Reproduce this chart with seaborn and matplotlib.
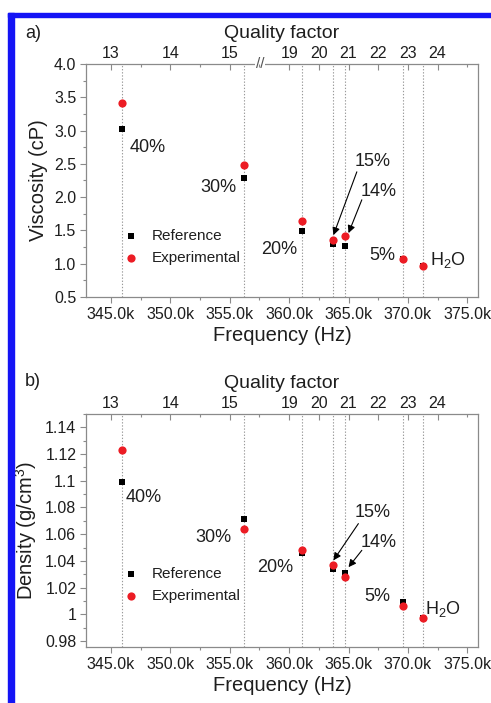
import matplotlib
matplotlib.use("Agg")
import matplotlib.pyplot as plt
import matplotlib.transforms as mtransforms
from matplotlib.patches import Rectangle
from matplotlib.ticker import FuncFormatter, MultipleLocator, FixedLocator
import seaborn as sns
import pandas as pd

# ---------------- data ----------------
samples = ["40%", "30%", "20%", "15%", "14%", "5%", "H2O"]
frequency_hz = [345950, 356230, 361070, 363680, 364710, 369570, 371310]
viscosity_ref = [3.02, 2.29, 1.49, 1.30, 1.27, 1.07, 0.96]
viscosity_exp = [3.42, 2.48, 1.64, 1.35, 1.41, 1.07, 0.96]
density_ref = [1.099, 1.071, 1.046, 1.034, 1.031, 1.009, 0.997]
density_exp = [1.123, 1.064, 1.048, 1.037, 1.028, 1.006, 0.997]

quality_tick_pos = [345000, 350000, 355000, 360000, 362500, 365000, 367500, 370000, 372500]
quality_tick_labels = ["13", "14", "15", "19", "20", "21", "22", "23", "24"]

df = pd.DataFrame({"sample": samples, "freq": frequency_hz,
                   "visc_ref": viscosity_ref, "visc_exp": viscosity_exp,
                   "dens_ref": density_ref, "dens_exp": density_exp})

# ---------------- style ----------------
sns.set_style("ticks")
plt.rcParams["font.family"] = ["Liberation Sans", "DejaVu Sans"]
plt.rcParams["mathtext.fontset"] = "custom"
plt.rcParams["mathtext.rm"] = "Liberation Sans"
plt.rcParams["mathtext.it"] = "Liberation Sans"

SPINE = "#8a8a8a"
TXT = "#1e1e1e"
RED = "#ec1c24"

fig = plt.figure(figsize=(4.91, 7.03), dpi=100)

# blue frame decoration
fig.patches.append(Rectangle((8 / 491, 0), 6 / 491, 1 - 13 / 703, transform=fig.transFigure,
                             color="#1414f5", zorder=0))
fig.patches.append(Rectangle((8 / 491, 1 - 17 / 703), 1, 4 / 703, transform=fig.transFigure,
                             color="#1414f5", zorder=0))

ax_a = fig.add_axes([86 / 491, 1 - 297 / 703, 392 / 491, 233 / 703])
ax_b = fig.add_axes([86 / 491, 1 - 647 / 703, 392 / 491, 233 / 703])

xlim = (342900, 375900)


def style_axes(ax, ylab, ylim, ymaj, ymin, yfmt, panel, legend_y, break_mark):
    for f in df["freq"]:
        ax.axvline(f, color="#9a9a9a", ls=(0, (1.2, 1.6)), lw=0.8, zorder=1)
    ax.set_xlim(*xlim)
    ax.set_ylim(*ylim)
    for s in ax.spines.values():
        s.set_color(SPINE)
        s.set_linewidth(0.9)
    ax.xaxis.set_major_locator(MultipleLocator(5000))
    ax.xaxis.set_minor_locator(MultipleLocator(2500))
    ax.xaxis.set_major_formatter(FuncFormatter(lambda v, p: f"{v/1000:.1f}k"))
    ax.yaxis.set_major_locator(MultipleLocator(ymaj))
    ax.yaxis.set_minor_locator(MultipleLocator(ymin))
    ax.yaxis.set_major_formatter(FuncFormatter(yfmt))
    ax.tick_params(axis="both", which="major", direction="out", length=4.5, width=0.8,
                   color=SPINE, labelsize=11.5, labelcolor=TXT, pad=2.5)
    ax.tick_params(axis="both", which="minor", direction="out", length=2.5, width=0.8, color=SPINE)
    ax.set_xlabel("Frequency (Hz)", fontsize=14.5, color=TXT, labelpad=3)
    ax.set_ylabel(ylab, fontsize=14.5, color=TXT, labelpad=4)

    top = ax.twiny()
    top.set_xlim(ax.get_xlim())
    top.xaxis.set_major_locator(FixedLocator(quality_tick_pos))
    top.xaxis.set_minor_locator(MultipleLocator(2500))
    top.set_xticklabels(quality_tick_labels)
    top.tick_params(axis="x", which="major", direction="in", length=4, width=0.8,
                    color=SPINE, labelsize=11.5, labelcolor=TXT, pad=2)
    top.tick_params(axis="x", which="minor", direction="in", length=2.5, width=0.8, color=SPINE)
    for s in top.spines.values():
        s.set_visible(False)
    top.set_xlabel("Quality factor", fontsize=14, color=TXT, labelpad=6)
    if break_mark:
        trans = mtransforms.blended_transform_factory(ax.transData, ax.transAxes)
        ax.text(357550, 1.0, "//", transform=trans, ha="center", va="center",
                fontsize=11, color="#555555", clip_on=False, zorder=5,
                bbox=dict(boxstyle="square,pad=0.05", fc="white", ec="none"))

    fig.text(33 / 491, 1 - (33 if panel == "a)" else 381) / 703, panel, fontsize=13,
             color=TXT, ha="center", va="center")

    ax.legend(loc="upper left", bbox_to_anchor=(0.0954, legend_y), frameon=False,
              borderpad=0, borderaxespad=0, handlelength=1.0, handletextpad=0.85,
              labelspacing=0.5, fontsize=11, labelcolor=TXT)


# ---------------- panel a ----------------
sns.scatterplot(data=df, x="freq", y="visc_ref", marker="s", color="black", s=21,
                linewidth=0, label="Reference", ax=ax_a, zorder=3)
sns.scatterplot(data=df, x="freq", y="visc_exp", marker="o", color=RED, s=35,
                linewidth=0, label="Experimental", ax=ax_a, zorder=4)
style_axes(ax_a, "Viscosity (cP)", (0.5, 4.0), 0.5, 0.25,
           lambda v, p: f"{v:.1f}", "a)", 0.29, True)

labels_a = {"40%": (348100, 2.74), "30%": (354050, 2.15), "20%": (359150, 1.21),
            "15%": (367000, 2.53), "14%": (367550, 2.08), "5%": (367850, 1.13)}
for t, (x, y) in labels_a.items():
    ax_a.text(x, y, t, fontsize=13, color=TXT, ha="center", va="center")
ax_a.text(371850, 1.06, "H$_\\mathregular{2}$O", fontsize=13, color=TXT, ha="left", va="center")
arrow = dict(arrowstyle="-|>", lw=0.8, color="black", mutation_scale=11, shrinkA=0, shrinkB=0)
ax_a.annotate("", xy=(363730, 1.43), xytext=(365700, 2.38), arrowprops=arrow)
ax_a.annotate("", xy=(365000, 1.46), xytext=(366120, 1.96), arrowprops=arrow)

# ---------------- panel b ----------------
sns.scatterplot(data=df, x="freq", y="dens_ref", marker="s", color="black", s=21,
                linewidth=0, label="Reference", ax=ax_b, zorder=3)
sns.scatterplot(data=df, x="freq", y="dens_exp", marker="o", color=RED, s=35,
                linewidth=0, label="Experimental", ax=ax_b, zorder=4)
style_axes(ax_b, "Density (g/cm$^\\mathregular{3}$)", (0.9755, 1.15), 0.02, 0.01,
           lambda v, p: f"{round(v, 3):g}", "b)", 0.3416, False)

labels_b = {"40%": (347720, 1.0872), "30%": (353660, 1.0578), "20%": (358860, 1.0354),
            "15%": (366990, 1.076), "14%": (367560, 1.0535), "5%": (367400, 1.0136)}
for t, (x, y) in labels_b.items():
    ax_b.text(x, y, t, fontsize=13, color=TXT, ha="center", va="center")
ax_b.text(371450, 1.0037, "H$_\\mathregular{2}$O", fontsize=13, color=TXT, ha="left", va="center")
ax_b.annotate("", xy=(363730, 1.0404), xytext=(365830, 1.0679), arrowprops=arrow)
ax_b.annotate("", xy=(365000, 1.0353), xytext=(366120, 1.0479), arrowprops=arrow)

fig.savefig("out.png", dpi=100)
